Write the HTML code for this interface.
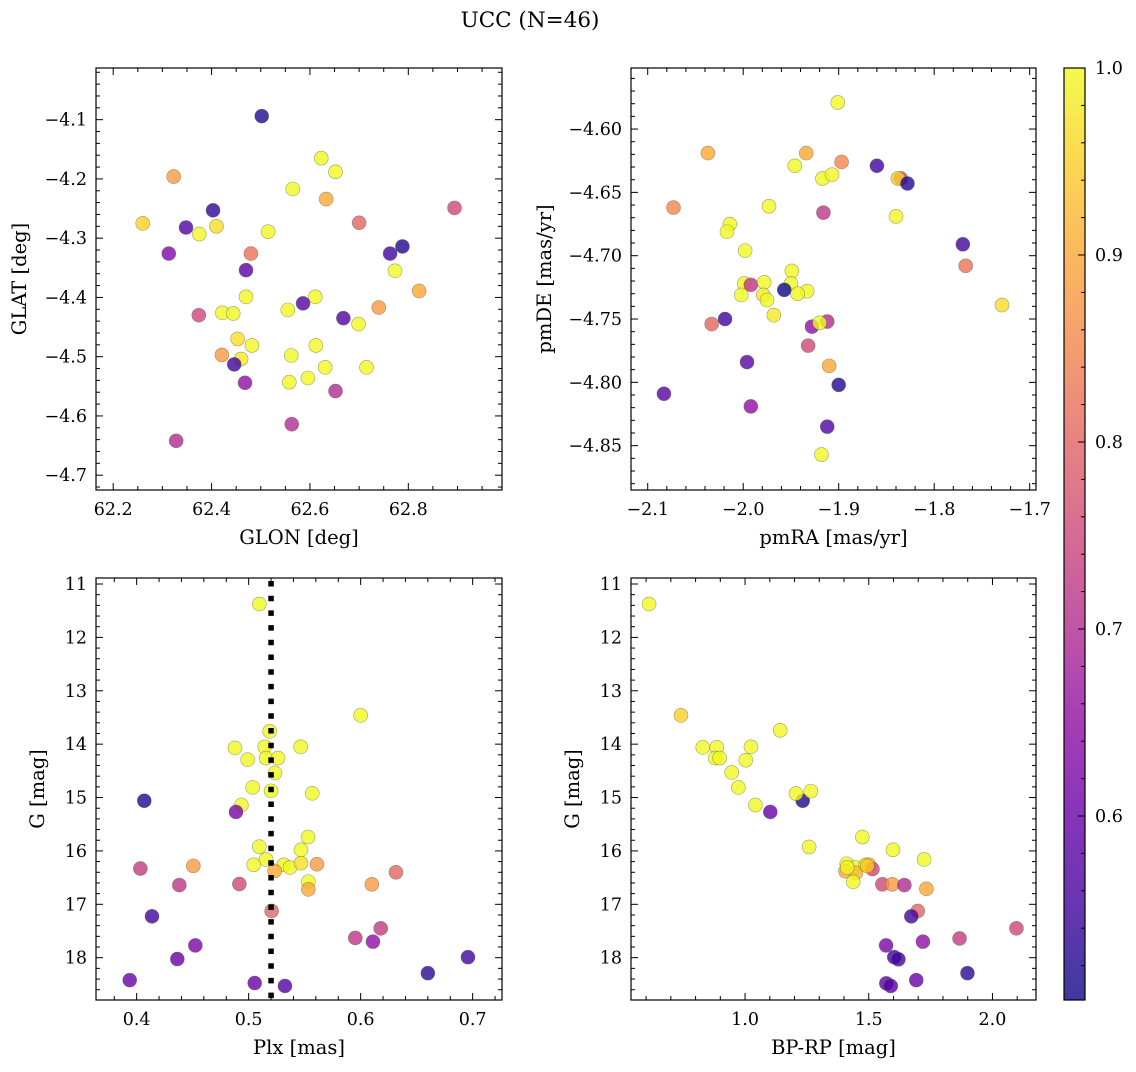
<!DOCTYPE html>
<html><head><meta charset="utf-8"><style>
body{margin:0;background:#fff}
svg text{font-family:"DejaVu Serif","Liberation Serif",serif;fill:#000}
</style></head><body>
<svg id="fig" width="1136" height="1067" xmlns="http://www.w3.org/2000/svg">
<text x="530" y="27" font-size="21.5" text-anchor="middle">UCC (N=46)</text>
</svg>
<script>
// Panel 1: GLON/GLAT
const p1Glon=[62.502,62.623,62.652,62.565,62.633,62.323,62.403,62.260,62.348,62.375,62.410,62.515,62.700,62.894,62.313,62.480,62.470,62.788,62.763,62.773,62.822,62.740,62.470,62.611,62.586,62.555,62.668,62.699,62.374,62.422,62.444,62.453,62.482,62.612,62.421,62.460,62.446,62.562,62.631,62.715,62.558,62.596,62.468,62.652,62.563,62.328];
const p1Glat=[-4.094,-4.165,-4.188,-4.217,-4.234,-4.196,-4.253,-4.275,-4.282,-4.293,-4.280,-4.289,-4.274,-4.249,-4.326,-4.326,-4.354,-4.314,-4.326,-4.355,-4.389,-4.417,-4.399,-4.399,-4.410,-4.421,-4.435,-4.445,-4.430,-4.426,-4.427,-4.470,-4.481,-4.481,-4.497,-4.504,-4.513,-4.498,-4.518,-4.518,-4.543,-4.536,-4.544,-4.558,-4.614,-4.642];
const p1Prob=[.52,1,1,1,.9,.88,.53,.95,.57,1,.97,1,.8,.75,.63,.82,.58,.52,.55,1,.9,.88,1,1,.57,1,.57,1,.75,1,1,.97,1,1,.88,.98,.55,1,1,1,1,1,.65,.7,.7,.7];
// Panel 2: pmRA/pmDE
const p2Pmra=[-1.901,-2.037,-1.934,-1.897,-1.946,-1.860,-1.917,-1.907,-1.835,-1.838,-1.828,-2.073,-1.973,-1.916,-1.840,-2.014,-2.017,-1.998,-1.770,-1.767,-1.949,-1.999,-1.992,-1.978,-1.950,-1.957,-1.933,-1.943,-2.002,-1.979,-1.975,-1.729,-1.968,-2.019,-2.033,-1.912,-1.928,-1.920,-1.932,-1.996,-1.910,-1.900,-2.083,-1.992,-1.912,-1.918];
const p2Pmde=[-4.579,-4.619,-4.619,-4.626,-4.629,-4.629,-4.639,-4.636,-4.639,-4.639,-4.643,-4.662,-4.661,-4.666,-4.669,-4.675,-4.681,-4.696,-4.691,-4.708,-4.712,-4.722,-4.723,-4.721,-4.722,-4.727,-4.728,-4.730,-4.731,-4.731,-4.735,-4.739,-4.747,-4.750,-4.754,-4.752,-4.756,-4.753,-4.771,-4.784,-4.787,-4.802,-4.809,-4.819,-4.835,-4.857];
const p2Prob=[1,.9,.9,.85,1,.55,1,1,.75,.95,.52,.85,1,.72,1,1,1,1,.55,.82,1,1,.72,1,1,.5,1,1,1,.98,1,.97,.98,.55,.8,.7,.65,1,.75,.58,.9,.52,.58,.65,.57,1];
// Panel 3: Plx/G
const p3Plx=[.5095,.600,.5188,.4878,.5143,.5464,.4991,.5155,.5262,.5235,.5036,.520,.5568,.4935,.4887,.4068,.553,.5467,.5095,.5155,.5045,.5313,.5369,.5467,.561,.5232,.4033,.4506,.4381,.4917,.5533,.5533,.610,.6315,.5205,.4137,.6179,.5952,.611,.4524,.4363,.3938,.5054,.5324,.660,.6958];
const p3G=[11.375,13.46,13.76,14.07,14.05,14.05,14.29,14.26,14.26,14.54,14.81,14.875,14.92,15.14,15.27,15.06,15.74,15.98,15.92,16.16,16.26,16.26,16.31,16.23,16.25,16.375,16.33,16.28,16.64,16.62,16.575,16.72,16.625,16.40,17.125,17.225,17.45,17.63,17.70,17.77,18.025,18.42,18.475,18.53,18.29,17.99];
const p3Prob=[1,1,1,1,1,1,1,1,1,1,1,1,1,1,.62,.52,1,1,1,1,1,1,1,.97,.88,.9,.73,.88,.72,.75,1,.9,.88,.8,.8,.55,.73,.72,.65,.62,.6,.6,.6,.57,.53,.55];
// Panel 4: BP-RP/G
const p4Bprp=[.612,.741,1.142,.829,.886,.879,.897,1.024,1.003,.946,.973,1.042,1.102,1.233,1.206,1.266,1.259,1.474,1.598,1.724,1.411,1.406,1.445,1.448,1.488,1.501,1.515,1.437,1.555,1.595,1.644,1.733,1.698,1.672,1.867,2.097,1.719,1.570,1.603,1.620,1.899,1.692,1.571,1.589,1.413,1.494];
const p4G=[11.375,13.46,13.74,14.06,14.06,14.26,14.26,14.05,14.30,14.53,14.81,15.14,15.27,15.06,14.925,14.88,15.925,15.74,15.98,16.16,16.24,16.38,16.31,16.41,16.26,16.26,16.34,16.58,16.625,16.625,16.64,16.71,17.125,17.225,17.64,17.45,17.70,17.77,17.99,18.03,18.29,18.42,18.48,18.53,16.31,16.28];
const p4Prob=[1,.95,1,1,1,1,1,1,1,1,1,1,.6,.52,1,1,1,1,1,1,1,.9,1,.92,.98,.92,.75,1,.75,.88,.7,.9,.8,.55,.73,.75,.65,.62,.55,.55,.53,.6,.58,.57,1,.95];
const cbTicks=[0.6,0.7,0.8,0.9,1.0];
const plxLine=0.52;

const NS="http://www.w3.org/2000/svg";
const svg=document.getElementById('fig');
function mk(tag,attrs,parent){const e=document.createElementNS(NS,tag);for(const k in attrs)e.setAttribute(k,attrs[k]);(parent||svg).appendChild(e);return e;}
const stops=[[13,8,135],[65,4,157],[106,0,168],[143,13,164],[177,42,144],[204,71,120],[225,100,98],[242,132,75],[252,166,54],[252,206,37],[240,249,33]];
const PMIN=0.5016,PMAX=1.0;
const TF=17.5, AF=19.5;
function plasma(t){t=Math.max(0,Math.min(1,t));const f=t*10,i=Math.min(9,Math.floor(f)),r=f-i;const a=stops[i],b=stops[i+1];return 'rgb('+[0,1,2].map(k=>Math.round(a[k]+(b[k]-a[k])*r)).join(',')+')';}
function col(p){return plasma((p-PMIN)/(PMAX-PMIN));}
function fmt(v,d){return (v<0?'\u2212':'')+Math.abs(v).toFixed(d);}

function panel(o){
  const g=mk('g',{});
  
  
  const sx=v=>o.L+(v-o.xd[0])/(o.xd[1]-o.xd[0])*(o.R-o.L);
  const sy=v=>o.T+(v-o.yd[1])/(o.yd[0]-o.yd[1])*(o.B-o.T);
  const syy=o.inv?(v=>o.T+(v-o.yd[0])/(o.yd[1]-o.yd[0])*(o.B-o.T)):sy;
  const eps=1e-9;
  for(let v=Math.ceil(o.xd[0]/o.xmin-eps)*o.xmin;v<=o.xd[1]+eps;v+=o.xmin){const x=sx(v);
    const isMaj=Math.abs(v/o.xmaj-Math.round(v/o.xmaj))<1e-6;const len=isMaj?7:4;
    mk('line',{x1:x,x2:x,y1:o.B,y2:o.B-len,stroke:'#000','stroke-width':1},g);
    mk('line',{x1:x,x2:x,y1:o.T,y2:o.T+len,stroke:'#000','stroke-width':1},g);
    if(isMaj){const t=mk('text',{x:x,y:o.B+25,'font-size':TF,'text-anchor':'middle'},g);t.textContent=fmt(v,o.xdec);
      
      }
  }
  for(let v=Math.ceil(Math.min(...o.yd)/o.ymin-eps)*o.ymin;v<=Math.max(...o.yd)+eps;v+=o.ymin){const y=syy(v);
    const isMaj=Math.abs(v/o.ymaj-Math.round(v/o.ymaj))<1e-6;const len=isMaj?7:4;
    mk('line',{x1:o.L,x2:o.L+len,y1:y,y2:y,stroke:'#000','stroke-width':1},g);
    mk('line',{x1:o.R,x2:o.R-len,y1:y,y2:y,stroke:'#000','stroke-width':1},g);
    if(isMaj){const t=mk('text',{x:o.L-9,y:y+6,'font-size':TF,'text-anchor':'end'},g);t.textContent=fmt(v,o.ydec);
      
      }
  }
  for(let i=0;i<o.xs.length;i++){
    const c=mk('circle',{cx:sx(o.xs[i]),cy:syy(o.ys[i]),r:7,fill:col(o.ps[i]),'fill-opacity':0.8,stroke:'rgba(90,90,60,0.55)','stroke-width':0.6},g);
    
    
  }
  if(o.vline!==undefined){const x=sx(o.vline);const l=mk('line',{x1:x,x2:x,y1:o.T+3,y2:o.B,stroke:'#000','stroke-width':5.5,'stroke-dasharray':'5.5 9.2'},g);
    
    }
  const fr=mk('rect',{x:o.L,y:o.T,width:o.R-o.L,height:o.B-o.T,fill:'none',stroke:'#000','stroke-width':1.2},g);
  
  
  const xl=mk('text',{x:(o.L+o.R)/2,y:o.B+54,'font-size':AF,'text-anchor':'middle'},g);xl.textContent=o.xlab;
  
  
  const yx=o.L-o.ylabOff,ymid=(o.T+o.B)/2;
  const yl=mk('text',{x:yx,y:ymid,'font-size':AF,'text-anchor':'middle',transform:'rotate(-90 '+yx+' '+ymid+')'},g);yl.textContent=o.ylab;
  
  
}
panel({name:'glon-glat-panel',L:96,R:502,T:68,B:490,xd:[62.165,62.9905],yd:[-4.725,-4.0128],xmaj:0.2,xmin:0.05,ymaj:0.1,ymin:0.02,xdec:1,ydec:1,xs:p1Glon,ys:p1Glat,ps:p1Prob,xlab:'GLON [deg]',ylab:'GLAT [deg]',ylabOff:70});
panel({name:'pm-panel',L:631,R:1036,T:68,B:490,xd:[-2.1175,-1.6934],yd:[-4.885,-4.5518],xmaj:0.1,xmin:0.02,ymaj:0.05,ymin:0.01,xdec:1,ydec:2,xs:p2Pmra,ys:p2Pmde,ps:p2Prob,xlab:'pmRA [mas/yr]',ylab:'pmDE [mas/yr]',ylabOff:80});
panel({name:'plx-g-panel',L:96,R:502,T:578,B:1000,xd:[0.3637,0.7262],yd:[10.8875,18.7925],inv:true,xmaj:0.1,xmin:0.02,ymaj:1,ymin:0.2,xdec:1,ydec:0,xs:p3Plx,ys:p3G,ps:p3Prob,xlab:'Plx [mas]',ylab:'G [mag]',ylabOff:52,vline:plxLine});
panel({name:'cmd-panel',L:631,R:1036,T:578,B:1000,xd:[0.539,2.176],yd:[10.8875,18.7925],inv:true,xmaj:0.5,xmin:0.1,ymaj:1,ymin:0.2,xdec:1,ydec:0,xs:p4Bprp,ys:p4G,ps:p4Prob,xlab:'BP-RP [mag]',ylab:'G [mag]',ylabOff:52});

const cb=mk('g',{});


const CL=1064,CR=1085,CT=68,CB=1000;
const defs=mk('defs',{},cb);const lg=mk('linearGradient',{id:'pg',x1:0,y1:1,x2:0,y2:0},defs);
for(let i=0;i<=20;i++){mk('stop',{offset:i/20,'stop-color':plasma(i/20),'stop-opacity':0.8},lg);}
mk('rect',{x:CL,y:CT,width:CR-CL,height:CB-CT,fill:'url(#pg)',stroke:'#000','stroke-width':1.2},cb);
const cy=v=>CB-(v-PMIN)/(PMAX-PMIN)*(CB-CT);
for(let v=0.52;v<=1.0001;v+=0.02){const y=cy(v);const maj=Math.abs(v*10-Math.round(v*10))<1e-6;
  mk('line',{x1:CR,x2:CR-(maj?7:4),y1:y,y2:y,stroke:'#000','stroke-width':1},cb);}
cbTicks.forEach(v=>{const t=mk('text',{x:CR+10,y:cy(v)+6,'font-size':TF},cb);t.textContent=v.toFixed(1);
  
  });
</script>
</body></html>
